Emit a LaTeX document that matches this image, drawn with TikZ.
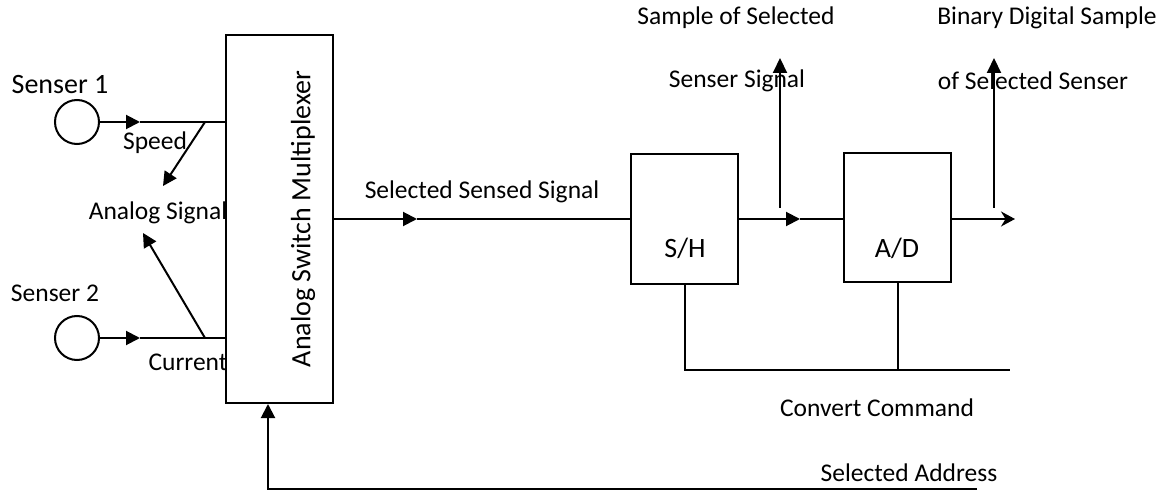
\documentclass[tikz,border=0pt]{standalone}
\usepackage{fontspec}
\setmainfont{Carlito}
\usetikzlibrary{arrows.meta,positioning}
\begin{document}
\begin{tikzpicture}[x=1pt, y=-1pt, line width=2pt,
    box/.style = {draw, rectangle, inner sep=0pt},
    sensor/.style = {draw, circle, minimum size=44pt, inner sep=0pt},
    txt/.style = {inner sep=0pt, font=\fontsize{25.5}{30}\selectfont},
    big/.style = {inner sep=0pt, font=\fontsize{28}{33}\selectfont},
    tri/.style = {-{Triangle[length=14pt,width=14pt]}},
    up/.style = {-{Triangle[length=15pt,width=14pt]}}]
    \useasboundingbox (0,0) rectangle (1170,494);
    % sensors and multiplexer
    \node[sensor] (s1) at (77,122) {};
    \node[sensor] (s2) at (77,338) {};
    \node[box, minimum width=107pt, minimum height=368pt] (mux) at (279.5,219) {};
    \node[big, rotate=90] (muxtext) at (303,219) {Analog Switch Multiplexer};
    \node[big] (t1) at (60,85) {Senser 1};
    \node[txt] (t2) at (55,293) {Senser 2};
    \node[txt] (speed) at (155,143) {Speed};
    \node[txt] (analog) at (158,213) {Analog Signal};
    \node[txt] (current) at (188,362) {Current};
    % sample/hold and converter
    \node[box, minimum width=107pt, minimum height=130pt] (sh) at (684.5,219) {};
    \node[box, minimum width=107pt, minimum height=129pt] (ad) at (897.5,218) {};
    \node[big] (shtext) at (685,248) {S/H};
    \node[big] (adtext) at (897,248) {A/D};
    \node[txt] (sel) at (482,192) {Selected Sensed Signal};
    \node[txt] (sam1) at (736,18) {Sample of Selected};
    \node[txt] (sam2) at (737,81) {Senser Signal};
    \node[txt] (bin1) at (1047,18) {Binary Digital Sample};
    \node[txt] (bin2) at (1033,81) {of Selected Senser};
    \node[txt] (conv) at (877,408) {Convert Command};
    \node[txt] (addr) at (909,473) {Selected Address};
    % points on the wires
    \coordinate (m1) at (140,122);
    \coordinate (j1) at (205,122);
    \coordinate (a1) at (163,186);
    \coordinate (m2) at (140,338);
    \coordinate (j2) at (205,338);
    \coordinate (a2) at (143,233);
    \coordinate (m3) at (417,219);
    \coordinate (m4) at (800,219);
    \coordinate (o1) at (780,208);
    \coordinate (u1) at (780,58);
    \coordinate (out) at (1015,219);
    \coordinate (o2) at (994,208);
    \coordinate (u2) at (994,58);
    \coordinate (c1) at (1010,370);
    \coordinate (r1) at (977,489);
    \coordinate (r2) at (268,489);
    \draw[tri] (s1) -- (m1);
    \draw (m1) -- (mux.west |- m1);
    \draw[tri] (j1) -- (a1);
    \draw[tri] (s2) -- (m2);
    \draw (m2) -- (mux.west |- m2);
    \draw[tri] (j2) -- (a2);
    \draw[tri] (mux.east |- m3) -- (m3);
    \draw (m3) -- (sh.west |- m3);
    \draw[tri] (sh.east |- m4) -- (m4);
    \draw (m4) -- (ad.west |- m4);
    \draw[up] (o1) -- (u1);
    \draw[-{Stealth[length=14pt,width=15pt]}] (ad.east |- out) -- (out);
    \draw[up] (o2) -- (u2);
    \draw (sh.south) -- (sh.south |- c1) -- (c1);
    \draw (ad.south) -- (ad.south |- c1);
    \draw[tri] (r1) -- (r2) -- (r2 |- mux.south);
\end{tikzpicture}
\end{document}
